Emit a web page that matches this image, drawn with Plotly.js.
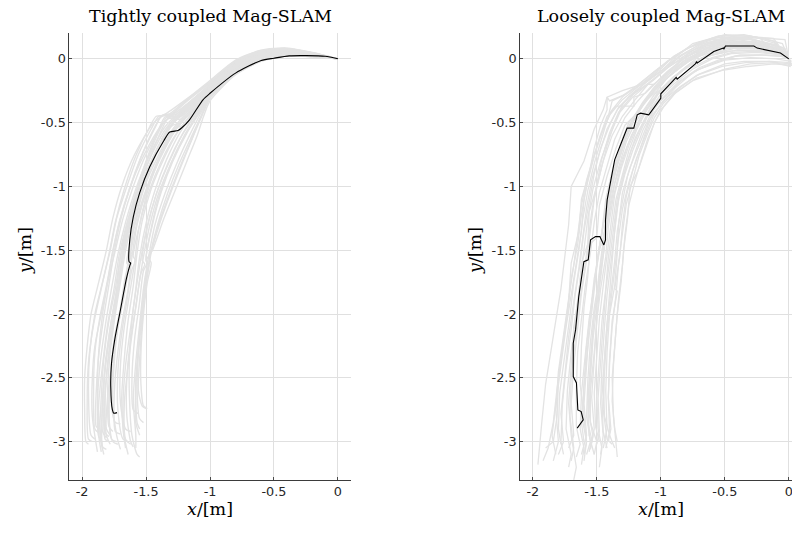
<!DOCTYPE html>
<html>
<head>
<meta charset="utf-8">
<script src="https://cdn.plot.ly/plotly-3.0.1.min.js"></script>
<style>html,body{margin:0;padding:0;overflow:hidden;background:#fff}</style>
</head>
<body>
<div id="chart" style="width:812px;height:533px"></div>
<script>
// ---------------- data ----------------
const titles = ["Tightly coupled Mag-SLAM", "Loosely coupled Mag-SLAM"];
const xTicks = [-2, -1.5, -1, -0.5, 0];
const xTickText = ["-2", "-1.5", "-1", "-0.5", "0"];
const yTicks = [0, -0.5, -1, -1.5, -2, -2.5, -3];
const yTickText = ["0", "-0.5", "-1", "-1.5", "-2", "-2.5", "-3"];

// Tightly coupled: estimate trajectory (black) and Monte Carlo runs (grey)
const leftBlack = [[0,0],[-0.1,0.02],[-0.25,0.025],[-0.38,0.023],[-0.5,0.005],[-0.6,-0.013],[-0.8,-0.112],[-1.0,-0.27],[-1.055,-0.321],[-1.16,-0.478],[-1.22,-0.54],[-1.25,-0.562],[-1.315,-0.574],[-1.36,-0.64],[-1.47,-0.844],[-1.55,-1.05],[-1.60,-1.24],[-1.627,-1.418],[-1.633,-1.589],[-1.62,-1.60],[-1.627,-1.62],[-1.653,-1.72],[-1.705,-1.993],[-1.745,-2.202],[-1.77,-2.385],[-1.776,-2.568],[-1.763,-2.751],[-1.752,-2.777],[-1.727,-2.772]];

const leftGray = [
 [[0,0],[-0.2,0.05],[-0.4,0.084],[-0.6,0.068],[-0.8,-0.01],[-1.0,-0.17],[-1.15,-0.29],[-1.3,-0.4],[-1.44,-0.5],[-1.59,-0.75],[-1.69,-1.0],[-1.76,-1.25],[-1.81,-1.5],[-1.87,-1.75],[-1.93,-2.0],[-1.96,-2.25],[-1.98,-2.5],[-1.98,-2.75],[-1.97,-3.0],[-1.95,-3.02]],
 [[0,0],[-0.2,0.047],[-0.4,0.08],[-0.6,0.062],[-0.8,-0.02],[-1.0,-0.185],[-1.2,-0.34],[-1.31,-0.44],[-1.4,-0.45],[-1.46,-0.55],[-1.56,-0.75],[-1.65,-1.0],[-1.73,-1.25],[-1.78,-1.5],[-1.84,-1.75],[-1.9,-2.0],[-1.94,-2.3],[-1.95,-2.6],[-1.93,-2.95],[-1.9,-2.98]],
 [[0,0],[-0.2,0.044],[-0.4,0.075],[-0.6,0.055],[-0.8,-0.03],[-1.0,-0.2],[-1.2,-0.37],[-1.36,-0.5],[-1.5,-0.75],[-1.6,-1.0],[-1.68,-1.25],[-1.74,-1.5],[-1.8,-1.75],[-1.85,-2.0],[-1.9,-2.25],[-1.92,-2.5],[-1.92,-2.8],[-1.88,-3.08]],
 [[0,0],[-0.2,0.04],[-0.4,0.07],[-0.6,0.047],[-0.8,-0.04],[-1.0,-0.21],[-1.18,-0.37],[-1.28,-0.44],[-1.38,-0.445],[-1.42,-0.52],[-1.53,-0.75],[-1.62,-1.0],[-1.7,-1.25],[-1.76,-1.5],[-1.8,-1.75],[-1.84,-2.0],[-1.87,-2.3],[-1.88,-2.6],[-1.86,-2.9],[-1.84,-3.05]],
 [[0,0],[-0.2,0.037],[-0.4,0.064],[-0.6,0.04],[-0.8,-0.05],[-1.0,-0.22],[-1.17,-0.38],[-1.33,-0.55],[-1.46,-0.8],[-1.56,-1.05],[-1.64,-1.3],[-1.7,-1.55],[-1.74,-1.8],[-1.79,-2.05],[-1.83,-2.35],[-1.85,-2.65],[-1.86,-2.95],[-1.83,-3.1]],
 [[0,0],[-0.2,0.034],[-0.4,0.058],[-0.6,0.032],[-0.8,-0.06],[-1.0,-0.23],[-1.16,-0.39],[-1.26,-0.45],[-1.35,-0.455],[-1.4,-0.55],[-1.5,-0.8],[-1.58,-1.05],[-1.65,-1.3],[-1.7,-1.55],[-1.73,-1.8],[-1.78,-2.1],[-1.82,-2.4],[-1.83,-2.7],[-1.82,-2.98],[-1.79,-3.0]],
 [[0,0],[-0.2,0.031],[-0.4,0.052],[-0.6,0.024],[-0.8,-0.07],[-1.0,-0.24],[-1.15,-0.4],[-1.3,-0.58],[-1.42,-0.82],[-1.52,-1.08],[-1.6,-1.35],[-1.65,-1.6],[-1.63,-1.63],[-1.66,-1.7],[-1.7,-1.95],[-1.75,-2.2],[-1.78,-2.5],[-1.79,-2.8],[-1.76,-3.0],[-1.72,-3.02]],
 [[0,0],[-0.2,0.028],[-0.4,0.048],[-0.6,0.015],[-0.8,-0.08],[-1.0,-0.25],[-1.13,-0.4],[-1.23,-0.5],[-1.29,-0.52],[-1.35,-0.6],[-1.45,-0.82],[-1.54,-1.08],[-1.6,-1.35],[-1.63,-1.6],[-1.67,-1.85],[-1.72,-2.1],[-1.75,-2.4],[-1.76,-2.7],[-1.73,-2.95],[-1.7,-3.06]],
 [[0,0],[-0.2,0.026],[-0.4,0.044],[-0.6,0.01],[-0.8,-0.09],[-1.0,-0.26],[-1.12,-0.41],[-1.26,-0.58],[-1.38,-0.8],[-1.48,-1.05],[-1.55,-1.3],[-1.6,-1.55],[-1.58,-1.58],[-1.61,-1.65],[-1.65,-1.9],[-1.69,-2.15],[-1.72,-2.45],[-1.72,-2.75],[-1.68,-2.98],[-1.64,-3.0]],
 [[0,0],[-0.2,0.024],[-0.4,0.04],[-0.6,0.005],[-0.8,-0.1],[-1.0,-0.27],[-1.1,-0.4],[-1.2,-0.52],[-1.27,-0.54],[-1.32,-0.62],[-1.42,-0.84],[-1.5,-1.08],[-1.56,-1.35],[-1.59,-1.6],[-1.63,-1.85],[-1.67,-2.1],[-1.7,-2.4],[-1.7,-2.7],[-1.66,-2.9],[-1.62,-2.92]],
 [[0,0],[-0.2,0.022],[-0.4,0.036],[-0.6,0.0],[-0.8,-0.105],[-1.0,-0.28],[-1.1,-0.42],[-1.22,-0.6],[-1.33,-0.82],[-1.42,-1.06],[-1.49,-1.32],[-1.53,-1.58],[-1.51,-1.61],[-1.54,-1.68],[-1.58,-1.95],[-1.62,-2.2],[-1.65,-2.5],[-1.65,-2.8],[-1.62,-3.0],[-1.6,-3.04]],
 [[0,0],[-0.2,0.02],[-0.4,0.032],[-0.6,-0.005],[-0.8,-0.11],[-1.0,-0.29],[-1.08,-0.42],[-1.18,-0.58],[-1.29,-0.8],[-1.38,-1.04],[-1.45,-1.3],[-1.5,-1.56],[-1.49,-1.6],[-1.52,-1.66],[-1.55,-1.9],[-1.59,-2.2],[-1.61,-2.5],[-1.6,-2.75],[-1.56,-2.78]],
 [[0,0],[-0.2,0.018],[-0.4,0.028],[-0.6,-0.01],[-0.8,-0.115],[-1.0,-0.3],[-1.07,-0.45],[-1.14,-0.6],[-1.24,-0.82],[-1.33,-1.05],[-1.41,-1.3],[-1.47,-1.55],[-1.51,-1.8],[-1.53,-2.05],[-1.55,-2.35],[-1.56,-2.6],[-1.53,-2.72],[-1.5,-2.74]],
 [[0,0],[-0.2,0.015],[-0.4,0.022],[-0.6,-0.02],[-0.8,-0.125],[-1.0,-0.33],[-1.05,-0.45],[-1.1,-0.6],[-1.18,-0.8],[-1.26,-1.0],[-1.36,-1.25],[-1.45,-1.5],[-1.48,-1.55],[-1.46,-1.6],[-1.49,-1.75],[-1.52,-2.0],[-1.54,-2.3],[-1.54,-2.55],[-1.52,-2.72],[-1.49,-2.74]],
 [[0,0],[-0.2,0.03],[-0.4,0.05],[-0.6,0.02],[-0.8,-0.075],[-1.0,-0.245],[-1.14,-0.4],[-1.27,-0.56],[-1.39,-0.78],[-1.49,-1.02],[-1.57,-1.28],[-1.62,-1.52],[-1.66,-1.78],[-1.71,-2.05],[-1.76,-2.35],[-1.8,-2.65],[-1.81,-2.9],[-1.78,-2.95]],
 [[0,0],[-0.2,0.042],[-0.4,0.072],[-0.6,0.05],[-0.8,-0.035],[-1.0,-0.205],[-1.19,-0.37],[-1.35,-0.53],[-1.48,-0.77],[-1.58,-1.02],[-1.66,-1.28],[-1.72,-1.53],[-1.77,-1.8],[-1.82,-2.1],[-1.86,-2.4],[-1.88,-2.7],[-1.87,-2.96],[-1.85,-2.98]],
 [[0,0],[-0.2,0.036],[-0.4,0.062],[-0.6,0.036],[-0.8,-0.055],[-1.0,-0.225],[-1.16,-0.38],[-1.3,-0.52],[-1.42,-0.74],[-1.52,-0.98],[-1.6,-1.24],[-1.66,-1.5],[-1.7,-1.75],[-1.74,-2.0],[-1.78,-2.3],[-1.8,-2.6],[-1.79,-2.88],[-1.76,-2.92]],
 [[0,0],[-0.2,0.025],[-0.4,0.042],[-0.6,0.008],[-0.8,-0.095],[-1.0,-0.265],[-1.11,-0.41],[-1.23,-0.57],[-1.34,-0.79],[-1.43,-1.03],[-1.5,-1.29],[-1.55,-1.55],[-1.58,-1.8],[-1.61,-2.05],[-1.63,-2.35],[-1.63,-2.65],[-1.61,-2.95],[-1.57,-3.1],[-1.55,-3.12]],
 [[0,0],[-0.2,0.032],[-0.4,0.055],[-0.6,0.028],[-0.8,-0.065],[-1.0,-0.235],[-1.15,-0.39],[-1.24,-0.46],[-1.33,-0.47],[-1.38,-0.56],[-1.47,-0.78],[-1.56,-1.02],[-1.63,-1.28],[-1.68,-1.52],[-1.72,-1.78],[-1.77,-2.05],[-1.81,-2.35],[-1.84,-2.65],[-1.84,-2.92],[-1.81,-2.97]],
 [[0,0],[-0.2,0.046],[-0.4,0.078],[-0.6,0.058],[-0.8,-0.025],[-1.0,-0.19],[-1.2,-0.35],[-1.38,-0.52],[-1.52,-0.76],[-1.63,-1.02],[-1.71,-1.28],[-1.76,-1.52],[-1.81,-1.78],[-1.86,-2.02],[-1.9,-2.3],[-1.91,-2.58],[-1.9,-2.9],[-1.87,-2.93]],
 [[0,0],[-0.2,0.016],[-0.4,0.024],[-0.6,-0.015],[-0.8,-0.12],[-1.0,-0.31],[-1.06,-0.44],[-1.12,-0.58],[-1.21,-0.8],[-1.3,-1.03],[-1.39,-1.28],[-1.46,-1.52],[-1.5,-1.78],[-1.53,-2.02],[-1.56,-2.3],[-1.58,-2.55],[-1.57,-2.85],[-1.55,-2.9]],
 [[0,0],[-0.2,0.02],[-0.4,0.034],[-0.6,-0.002],[-0.8,-0.108],[-1.0,-0.285],[-1.09,-0.43],[-1.19,-0.59],[-1.3,-0.81],[-1.4,-1.05],[-1.47,-1.3],[-1.52,-1.55],[-1.56,-1.8],[-1.6,-2.08],[-1.64,-2.4],[-1.67,-2.7],[-1.66,-2.98],[-1.62,-3.02]],
 [[0,0],[-0.2,0.028],[-0.4,0.045],[-0.6,0.012],[-0.8,-0.085],[-1.0,-0.255],[-1.13,-0.41],[-1.21,-0.47],[-1.29,-0.48],[-1.35,-0.58],[-1.46,-0.82],[-1.55,-1.08],[-1.61,-1.34],[-1.64,-1.6],[-1.68,-1.85],[-1.73,-2.12],[-1.77,-2.42],[-1.79,-2.72],[-1.77,-2.98],[-1.73,-3.0]],
 [[0,0],[-0.2,0.038],[-0.4,0.066],[-0.6,0.042],[-0.8,-0.045],[-1.0,-0.215],[-1.17,-0.37],[-1.32,-0.54],[-1.45,-0.78],[-1.55,-1.03],[-1.63,-1.3],[-1.68,-1.55],[-1.72,-1.82],[-1.77,-2.1],[-1.82,-2.42],[-1.84,-2.72],[-1.84,-3.04],[-1.81,-3.06]],
 [[0,0],[-0.2,0.043],[-0.4,0.073],[-0.6,0.052],[-0.8,-0.032],[-1.0,-0.2],[-1.18,-0.36],[-1.29,-0.43],[-1.37,-0.44],[-1.43,-0.53],[-1.54,-0.77],[-1.63,-1.02],[-1.7,-1.27],[-1.75,-1.52],[-1.79,-1.77],[-1.83,-2.02],[-1.87,-2.32],[-1.89,-2.62],[-1.89,-2.88],[-1.86,-2.9]],
 [[0,0],[-0.2,0.033],[-0.4,0.056],[-0.6,0.03],[-0.8,-0.062],[-1.0,-0.232],[-1.15,-0.385],[-1.29,-0.55],[-1.41,-0.77],[-1.51,-1.0],[-1.58,-1.25],[-1.63,-1.5],[-1.61,-1.53],[-1.64,-1.6],[-1.68,-1.85],[-1.73,-2.15],[-1.76,-2.45],[-1.77,-2.72],[-1.74,-2.85],[-1.7,-2.86]],
 [[0,0],[-0.2,0.027],[-0.4,0.046],[-0.6,0.013],[-0.8,-0.083],[-1.0,-0.252],[-1.12,-0.4],[-1.25,-0.57],[-1.36,-0.78],[-1.46,-1.02],[-1.53,-1.27],[-1.57,-1.52],[-1.6,-1.78],[-1.64,-2.05],[-1.67,-2.35],[-1.69,-2.65],[-1.68,-2.9],[-1.66,-3.05]],
 [[0,0],[-0.2,0.021],[-0.4,0.035],[-0.6,-0.003],[-0.8,-0.106],[-1.0,-0.282],[-1.09,-0.42],[-1.2,-0.6],[-1.31,-0.83],[-1.4,-1.08],[-1.46,-1.33],[-1.5,-1.58],[-1.48,-1.62],[-1.5,-1.68],[-1.53,-1.95],[-1.56,-2.25],[-1.58,-2.55],[-1.58,-2.85],[-1.55,-2.95]],
 [[0,0],[-0.2,0.041],[-0.4,0.069],[-0.6,0.045],[-0.8,-0.04],[-1.0,-0.21],[-1.17,-0.37],[-1.31,-0.53],[-1.43,-0.75],[-1.53,-0.99],[-1.61,-1.25],[-1.67,-1.5],[-1.71,-1.76],[-1.75,-2.02],[-1.79,-2.32],[-1.82,-2.62],[-1.82,-2.93],[-1.79,-2.96]],
 [[0,0],[-0.2,0.048],[-0.4,0.082],[-0.6,0.065],[-0.8,-0.015],[-1.0,-0.18],[-1.17,-0.31],[-1.33,-0.44],[-1.42,-0.45],[-1.47,-0.53],[-1.58,-0.76],[-1.67,-1.02],[-1.74,-1.28],[-1.79,-1.53],[-1.85,-1.8],[-1.91,-2.08],[-1.95,-2.38],[-1.96,-2.68],[-1.95,-2.98],[-1.92,-3.0]],
 [[0,0],[-0.2,0.019],[-0.4,0.03],[-0.6,-0.008],[-0.8,-0.112],[-1.0,-0.295],[-1.08,-0.44],[-1.16,-0.6],[-1.26,-0.82],[-1.35,-1.05],[-1.43,-1.3],[-1.48,-1.55],[-1.52,-1.8],[-1.55,-2.08],[-1.58,-2.38],[-1.6,-2.68],[-1.58,-2.95],[-1.58,-3.05]],
 [[0,0],[-0.2,0.035],[-0.4,0.06],[-0.6,0.034],[-0.8,-0.058],[-1.0,-0.228],[-1.16,-0.385],[-1.25,-0.455],[-1.34,-0.46],[-1.39,-0.55],[-1.49,-0.79],[-1.57,-1.04],[-1.64,-1.3],[-1.69,-1.55],[-1.72,-1.8],[-1.76,-2.08],[-1.8,-2.38],[-1.82,-2.68],[-1.81,-2.95],[-1.78,-3.02]],
 [[0,0],[-0.2,0.029],[-0.4,0.049],[-0.6,0.018],[-0.8,-0.078],[-1.0,-0.248],[-1.14,-0.405],[-1.28,-0.57],[-1.4,-0.79],[-1.5,-1.04],[-1.57,-1.3],[-1.61,-1.55],[-1.64,-1.8],[-1.69,-2.08],[-1.73,-2.38],[-1.75,-2.68],[-1.74,-2.92],[-1.7,-2.94]],
 [[0,0],[-0.2,0.017],[-0.4,0.026],[-0.6,-0.012],[-0.8,-0.118],[-1.0,-0.305],[-1.07,-0.45],[-1.13,-0.6],[-1.22,-0.81],[-1.31,-1.04],[-1.4,-1.29],[-1.47,-1.53],[-1.5,-1.58],[-1.48,-1.62],[-1.51,-1.78],[-1.54,-2.02],[-1.56,-2.3],[-1.57,-2.6],[-1.55,-2.82],[-1.52,-2.85]],
 [[0,0],[-0.2,0.039],[-0.4,0.067],[-0.6,0.044],[-0.8,-0.042],[-1.0,-0.212],[-1.18,-0.37],[-1.34,-0.54],[-1.47,-0.78],[-1.57,-1.03],[-1.65,-1.29],[-1.71,-1.54],[-1.75,-1.8],[-1.8,-2.08],[-1.84,-2.4],[-1.87,-2.7],[-1.87,-2.95],[-1.85,-3.08]],
 [[0,0],[-0.2,0.023],[-0.4,0.038],[-0.6,0.003],[-0.8,-0.1],[-1.0,-0.275],[-1.1,-0.41],[-1.21,-0.58],[-1.32,-0.81],[-1.42,-1.06],[-1.49,-1.31],[-1.54,-1.56],[-1.58,-1.82],[-1.62,-2.1],[-1.66,-2.4],[-1.68,-2.7],[-1.67,-2.96],[-1.64,-3.1]]
];

// Loosely coupled: estimate trajectory (black) and Monte Carlo runs (grey)
const rightBlack = [[0,0],[-0.065,0.045],[-0.247,0.084],[-0.273,0.10],[-0.495,0.10],[-0.508,0.076],[-0.51,0.085],[-0.586,0.057],[-0.716,-0.034],[-0.72,-0.02],[-0.73,-0.04],[-0.872,-0.159],[-0.88,-0.145],[-0.924,-0.19],[-1.0,-0.274],[-1.0,-0.31],[-1.067,-0.40],[-1.094,-0.439],[-1.159,-0.426],[-1.184,-0.439],[-1.211,-0.543],[-1.263,-0.543],[-1.289,-0.609],[-1.354,-0.79],[-1.36,-0.79],[-1.419,-1.105],[-1.432,-1.262],[-1.432,-1.418],[-1.445,-1.458],[-1.476,-1.393],[-1.51,-1.393],[-1.549,-1.418],[-1.567,-1.575],[-1.601,-1.589],[-1.627,-1.785],[-1.641,-1.863],[-1.666,-2.124],[-1.684,-2.228],[-1.684,-2.49],[-1.659,-2.54],[-1.648,-2.751],[-1.622,-2.764],[-1.606,-2.829],[-1.627,-2.855],[-1.653,-2.894]];

const rightGray = [
 [[0,0],[-0.05,0.12],[-0.25,0.17],[-0.5,0.19],[-0.75,0.12],[-0.9,0.0],[-1.0,-0.1],[-1.15,-0.2],[-1.3,-0.25],[-1.42,-0.3],[-1.45,-0.4],[-1.52,-0.55],[-1.6,-0.8],[-1.7,-1.0],[-1.72,-1.3],[-1.75,-1.55],[-1.78,-1.8],[-1.82,-2.05],[-1.86,-2.3],[-1.9,-2.55],[-1.93,-2.85],[-1.96,-3.18]],
 [[0,0],[-0.1,0.08],[-0.3,0.15],[-0.5,0.17],[-0.52,0.14],[-0.7,0.1],[-0.85,0.0],[-0.86,-0.03],[-1.0,-0.15],[-1.12,-0.27],[-1.21,-0.3],[-1.21,-0.37],[-1.35,-0.37],[-1.42,-0.45],[-1.48,-0.62],[-1.55,-0.85],[-1.62,-1.1],[-1.64,-1.35],[-1.7,-1.6],[-1.72,-1.9],[-1.76,-2.2],[-1.8,-2.5],[-1.81,-2.8],[-1.84,-3.0],[-1.9,-3.05]],
 [[0,0],[-0.02,0.05],[-0.2,0.12],[-0.4,0.15],[-0.6,0.12],[-0.62,0.09],[-0.8,0.02],[-0.95,-0.1],[-1.05,-0.2],[-1.1,-0.2],[-1.2,-0.32],[-1.3,-0.45],[-1.38,-0.6],[-1.45,-0.8],[-1.5,-1.0],[-1.56,-1.2],[-1.57,-1.45],[-1.62,-1.6],[-1.64,-1.85],[-1.68,-2.1],[-1.7,-2.4],[-1.72,-2.7],[-1.7,-2.95],[-1.66,-3.2],[-1.68,-3.3]],
 [[0,0],[-0.1,0.06],[-0.3,0.1],[-0.32,0.13],[-0.5,0.13],[-0.7,0.07],[-0.72,0.03],[-0.85,-0.05],[-1.0,-0.2],[-1.1,-0.3],[-1.18,-0.42],[-1.28,-0.52],[-1.35,-0.7],[-1.42,-0.92],[-1.48,-1.15],[-1.5,-1.4],[-1.55,-1.45],[-1.57,-1.7],[-1.6,-1.95],[-1.62,-2.25],[-1.63,-2.55],[-1.6,-2.8],[-1.58,-3.0],[-1.6,-3.15]],
 [[0,0],[0.02,-0.04],[-0.1,-0.03],[-0.3,-0.04],[-0.5,-0.08],[-0.75,-0.17],[-0.9,-0.28],[-1.0,-0.4],[-1.05,-0.5],[-1.12,-0.7],[-1.18,-0.88],[-1.24,-1.0],[-1.26,-1.25],[-1.29,-1.5],[-1.31,-1.75],[-1.34,-2.0],[-1.36,-2.25],[-1.38,-2.5],[-1.37,-2.8],[-1.34,-3.12]],
 [[0,0],[0.01,-0.06],[-0.15,-0.02],[-0.35,-0.02],[-0.5,-0.04],[-0.7,-0.12],[-0.85,-0.22],[-0.95,-0.3],[-1.05,-0.42],[-1.1,-0.5],[-1.17,-0.68],[-1.24,-0.85],[-1.3,-1.05],[-1.33,-1.3],[-1.34,-1.52],[-1.36,-1.78],[-1.4,-2.0],[-1.42,-2.3],[-1.43,-2.6],[-1.42,-2.9],[-1.45,-3.05]],
 [[0,0],[-0.05,0.03],[-0.25,0.05],[-0.45,0.04],[-0.6,0.0],[-0.75,-0.08],[-0.9,-0.2],[-1.0,-0.3],[-1.08,-0.4],[-1.15,-0.55],[-1.22,-0.72],[-1.28,-0.9],[-1.33,-1.1],[-1.36,-1.35],[-1.39,-1.6],[-1.42,-1.85],[-1.44,-2.1],[-1.46,-2.4],[-1.47,-2.7],[-1.45,-2.95],[-1.47,-3.1]],
 [[0,0],[-0.1,0.08],[-0.3,0.11],[-0.5,0.1],[-0.55,0.07],[-0.7,0.02],[-0.85,-0.1],[-0.95,-0.2],[-1.05,-0.28],[-1.12,-0.38],[-1.2,-0.5],[-1.27,-0.65],[-1.33,-0.85],[-1.38,-1.05],[-1.42,-1.3],[-1.45,-1.55],[-1.48,-1.8],[-1.5,-2.05],[-1.52,-2.35],[-1.54,-2.65],[-1.52,-2.9],[-1.55,-3.05]],
 [[0,0],[-0.05,0.06],[-0.2,0.1],[-0.4,0.12],[-0.6,0.08],[-0.8,-0.02],[-0.95,-0.15],[-1.05,-0.25],[-1.15,-0.38],[-1.25,-0.5],[-1.32,-0.68],[-1.38,-0.88],[-1.43,-1.1],[-1.46,-1.35],[-1.5,-1.6],[-1.53,-1.85],[-1.56,-2.1],[-1.58,-2.4],[-1.6,-2.7],[-1.58,-2.95],[-1.62,-3.1]],
 [[0,0],[-0.08,0.04],[-0.25,0.08],[-0.45,0.09],[-0.6,0.05],[-0.78,-0.05],[-0.92,-0.17],[-1.02,-0.28],[-1.1,-0.36],[-1.18,-0.5],[-1.26,-0.68],[-1.32,-0.87],[-1.37,-1.08],[-1.41,-1.32],[-1.43,-1.55],[-1.47,-1.8],[-1.5,-2.05],[-1.52,-2.3],[-1.55,-2.6],[-1.55,-2.85],[-1.5,-3.0],[-1.52,-3.1]],
 [[0,0],[-0.1,0.1],[-0.3,0.16],[-0.5,0.16],[-0.7,0.11],[-0.85,0.02],[-0.98,-0.1],[-1.1,-0.2],[-1.22,-0.3],[-1.32,-0.42],[-1.4,-0.6],[-1.47,-0.8],[-1.53,-1.02],[-1.57,-1.25],[-1.6,-1.5],[-1.63,-1.75],[-1.66,-2.0],[-1.7,-2.3],[-1.73,-2.6],[-1.74,-2.9],[-1.7,-3.1],[-1.72,-3.2]],
 [[0,0],[-0.05,0.05],[-0.25,0.08],[-0.27,0.1],[-0.45,0.11],[-0.65,0.06],[-0.8,-0.03],[-0.95,-0.15],[-1.03,-0.25],[-1.12,-0.33],[-1.2,-0.44],[-1.28,-0.58],[-1.34,-0.78],[-1.4,-1.0],[-1.44,-1.22],[-1.47,-1.46],[-1.52,-1.72],[-1.55,-1.98],[-1.58,-2.25],[-1.6,-2.55],[-1.62,-2.85],[-1.6,-3.0]],
 [[0,0],[-0.05,0.04],[-0.2,0.06],[-0.4,0.07],[-0.6,0.03],[-0.75,-0.04],[-0.9,-0.14],[-1.0,-0.24],[-1.07,-0.36],[-1.13,-0.48],[-1.2,-0.62],[-1.26,-0.8],[-1.31,-1.0],[-1.35,-1.22],[-1.37,-1.45],[-1.39,-1.7],[-1.41,-1.95],[-1.43,-2.2],[-1.45,-2.5],[-1.44,-2.8],[-1.4,-2.95],[-1.36,-3.05]],
 [[0,0],[-0.1,0.12],[-0.3,0.18],[-0.5,0.18],[-0.7,0.13],[-0.9,0.02],[-1.0,-0.08],[-1.12,-0.18],[-1.28,-0.28],[-1.4,-0.33],[-1.42,-0.3],[-1.42,-0.4],[-1.47,-0.52],[-1.52,-0.7],[-1.56,-0.9],[-1.6,-1.1],[-1.62,-1.35],[-1.66,-1.6],[-1.7,-1.85],[-1.74,-2.1],[-1.78,-2.4],[-1.82,-2.7],[-1.85,-2.95],[-1.82,-3.1]],
 [[0,0],[0.02,-0.02],[-0.1,0.0],[-0.3,0.01],[-0.5,-0.01],[-0.7,-0.08],[-0.85,-0.18],[-0.97,-0.3],[-1.05,-0.38],[-1.1,-0.52],[-1.16,-0.7],[-1.22,-0.88],[-1.27,-1.08],[-1.3,-1.3],[-1.32,-1.55],[-1.36,-1.8],[-1.34,-1.82],[-1.38,-2.05],[-1.4,-2.35],[-1.41,-2.65],[-1.39,-2.9],[-1.41,-3.0]],
 [[0,0],[-0.08,0.07],[-0.28,0.13],[-0.5,0.14],[-0.68,0.09],[-0.82,0.0],[-0.96,-0.12],[-1.08,-0.22],[-1.18,-0.33],[-1.28,-0.46],[-1.36,-0.63],[-1.42,-0.83],[-1.48,-1.05],[-1.52,-1.28],[-1.55,-1.52],[-1.59,-1.78],[-1.62,-2.03],[-1.65,-2.3],[-1.66,-2.6],[-1.66,-2.88],[-1.63,-3.02],[-1.66,-3.12]],
 [[0,0],[-0.06,0.02],[-0.22,0.03],[-0.42,0.02],[-0.58,-0.03],[-0.74,-0.1],[-0.88,-0.22],[-0.99,-0.34],[-1.06,-0.45],[-1.12,-0.6],[-1.19,-0.78],[-1.25,-0.97],[-1.3,-1.18],[-1.33,-1.4],[-1.36,-1.65],[-1.39,-1.9],[-1.42,-2.15],[-1.44,-2.45],[-1.45,-2.75],[-1.42,-2.98],[-1.38,-3.02]],
 [[0,0],[-0.12,0.14],[-0.35,0.19],[-0.55,0.18],[-0.72,0.12],[-0.88,0.03],[-1.0,-0.06],[-1.1,-0.14],[-1.2,-0.22],[-1.3,-0.3],[-1.38,-0.4],[-1.45,-0.55],[-1.52,-0.75],[-1.58,-0.95],[-1.62,-1.15],[-1.65,-1.38],[-1.68,-1.62],[-1.72,-1.88],[-1.76,-2.15],[-1.8,-2.45],[-1.82,-2.75],[-1.8,-3.0],[-1.84,-3.15]],
 [[0,0],[-0.04,0.04],[-0.24,0.09],[-0.44,0.1],[-0.62,0.06],[-0.78,-0.02],[-0.92,-0.12],[-1.03,-0.22],[-1.12,-0.33],[-1.2,-0.46],[-1.27,-0.62],[-1.33,-0.8],[-1.38,-1.0],[-1.42,-1.22],[-1.46,-1.46],[-1.44,-1.48],[-1.48,-1.7],[-1.52,-1.95],[-1.55,-2.22],[-1.57,-2.52],[-1.58,-2.8],[-1.55,-3.0],[-1.58,-3.1]],
 [[0,0],[-0.03,0.15],[-0.3,0.17],[-0.6,0.15],[-0.8,0.08],[-0.95,-0.02],[-1.06,-0.12],[-1.18,-0.22],[-1.3,-0.32],[-1.4,-0.44],[-1.47,-0.6],[-1.53,-0.8],[-1.58,-1.0],[-1.62,-1.22],[-1.65,-1.46],[-1.7,-1.72],[-1.73,-2.0],[-1.77,-2.28],[-1.81,-2.58],[-1.84,-2.85],[-1.88,-3.05],[-1.92,-3.15]],
 [[0,0],[-0.07,0.05],[-0.27,0.07],[-0.47,0.06],[-0.64,0.02],[-0.8,-0.07],[-0.94,-0.18],[-1.04,-0.3],[-1.12,-0.42],[-1.19,-0.56],[-1.25,-0.72],[-1.3,-0.9],[-1.35,-1.1],[-1.38,-1.32],[-1.41,-1.56],[-1.43,-1.8],[-1.46,-2.06],[-1.48,-2.35],[-1.5,-2.65],[-1.49,-2.9],[-1.46,-3.05],[-1.48,-3.2]],
 [[0,0],[-0.05,0.09],[-0.25,0.13],[-0.45,0.14],[-0.65,0.1],[-0.82,0.02],[-0.96,-0.08],[-1.08,-0.18],[-1.16,-0.24],[-1.25,-0.3],[-1.3,-0.36],[-1.36,-0.5],[-1.42,-0.68],[-1.47,-0.88],[-1.52,-1.1],[-1.55,-1.34],[-1.58,-1.58],[-1.62,-1.84],[-1.65,-2.1],[-1.68,-2.4],[-1.7,-2.7],[-1.68,-2.95],[-1.72,-3.05]],
 [[0,0],[0.02,-0.05],[-0.12,-0.04],[-0.32,-0.06],[-0.52,-0.09],[-0.72,-0.15],[-0.88,-0.26],[-0.98,-0.38],[-1.04,-0.48],[-1.1,-0.62],[-1.15,-0.78],[-1.2,-0.95],[-1.25,-1.15],[-1.28,-1.38],[-1.3,-1.62],[-1.33,-1.88],[-1.35,-2.12],[-1.37,-2.4],[-1.38,-2.68],[-1.36,-2.9],[-1.34,-3.0]],
 [[0,0],[-0.09,0.09],[-0.3,0.12],[-0.5,0.12],[-0.68,0.08],[-0.84,-0.01],[-0.97,-0.13],[-1.07,-0.25],[-1.16,-0.38],[-1.24,-0.52],[-1.3,-0.7],[-1.36,-0.9],[-1.41,-1.12],[-1.44,-1.36],[-1.47,-1.6],[-1.5,-1.85],[-1.53,-2.1],[-1.55,-2.38],[-1.57,-2.68],[-1.56,-2.95],[-1.52,-3.1]],
 [[0,0],[-0.03,0.08],[-0.2,0.13],[-0.22,0.16],[-0.42,0.17],[-0.6,0.13],[-0.78,0.05],[-0.8,0.02],[-0.95,-0.07],[-1.06,-0.17],[-1.2,-0.26],[-1.25,-0.32],[-1.33,-0.42],[-1.4,-0.58],[-1.46,-0.78],[-1.5,-0.98],[-1.54,-1.2],[-1.57,-1.44],[-1.6,-1.68],[-1.64,-1.94],[-1.67,-2.2],[-1.7,-2.5],[-1.71,-2.8],[-1.68,-3.05],[-1.7,-3.15]],
 [[0,0],[-0.06,0.06],[-0.26,0.1],[-0.46,0.11],[-0.63,0.07],[-0.78,0.0],[-0.8,-0.03],[-0.93,-0.13],[-1.04,-0.23],[-1.13,-0.35],[-1.21,-0.48],[-1.28,-0.64],[-1.34,-0.83],[-1.39,-1.03],[-1.42,-1.26],[-1.46,-1.5],[-1.49,-1.75],[-1.48,-1.8],[-1.52,-2.0],[-1.54,-2.28],[-1.56,-2.58],[-1.57,-2.85],[-1.54,-2.98],[-1.56,-3.08]],
 [[0,0],[-0.08,0.1],[-0.28,0.15],[-0.48,0.15],[-0.66,0.11],[-0.83,0.03],[-0.98,-0.08],[-1.1,-0.17],[-1.22,-0.27],[-1.33,-0.38],[-1.4,-0.52],[-1.47,-0.7],[-1.52,-0.9],[-1.56,-1.12],[-1.6,-1.35],[-1.63,-1.6],[-1.67,-1.86],[-1.7,-2.12],[-1.74,-2.42],[-1.77,-2.72],[-1.78,-3.0],[-1.76,-3.1]],
 [[0,0],[-0.04,0.02],[-0.18,0.03],[-0.38,0.03],[-0.55,-0.01],[-0.7,-0.07],[-0.86,-0.18],[-0.98,-0.3],[-1.07,-0.42],[-1.14,-0.56],[-1.2,-0.73],[-1.26,-0.92],[-1.3,-1.12],[-1.34,-1.35],[-1.36,-1.58],[-1.39,-1.83],[-1.42,-2.08],[-1.44,-2.36],[-1.46,-2.65],[-1.45,-2.92],[-1.42,-3.05]],
 [[0,0],[-0.05,0.07],[-0.22,0.11],[-0.42,0.13],[-0.62,0.09],[-0.8,0.0],[-0.94,-0.11],[-1.05,-0.22],[-1.14,-0.34],[-1.22,-0.47],[-1.29,-0.63],[-1.35,-0.82],[-1.4,-1.02],[-1.44,-1.25],[-1.48,-1.48],[-1.51,-1.72],[-1.54,-1.98],[-1.57,-2.26],[-1.6,-2.56],[-1.61,-2.84],[-1.58,-3.0],[-1.6,-3.1]],
 [[0,0],[-0.1,0.11],[-0.32,0.16],[-0.52,0.16],[-0.7,0.11],[-0.86,0.02],[-0.99,-0.09],[-1.12,-0.19],[-1.24,-0.29],[-1.34,-0.4],[-1.42,-0.55],[-1.48,-0.74],[-1.54,-0.95],[-1.58,-1.17],[-1.61,-1.4],[-1.64,-1.64],[-1.68,-1.9],[-1.72,-2.18],[-1.75,-2.48],[-1.78,-2.78],[-1.76,-3.0],[-1.8,-3.1]],
 [[0,0],[-0.06,0.03],[-0.24,0.06],[-0.44,0.05],[-0.6,0.01],[-0.76,-0.07],[-0.9,-0.18],[-1.01,-0.29],[-1.09,-0.41],[-1.16,-0.55],[-1.23,-0.71],[-1.29,-0.9],[-1.34,-1.1],[-1.37,-1.33],[-1.4,-1.57],[-1.43,-1.82],[-1.45,-2.08],[-1.47,-2.36],[-1.49,-2.66],[-1.48,-2.92],[-1.5,-3.02]],
 [[0,0],[-0.08,0.06],[-0.3,0.09],[-0.5,0.08],[-0.52,0.05],[-0.68,0.01],[-0.83,-0.09],[-0.96,-0.21],[-1.06,-0.32],[-1.15,-0.45],[-1.23,-0.6],[-1.3,-0.78],[-1.36,-0.98],[-1.4,-1.2],[-1.44,-1.43],[-1.47,-1.68],[-1.5,-1.93],[-1.53,-2.2],[-1.55,-2.5],[-1.56,-2.78],[-1.53,-2.96],[-1.55,-3.06]],
 [[0,0],[-0.12,0.16],[-0.38,0.18],[-0.6,0.16],[-0.78,0.09],[-0.93,-0.01],[-1.05,-0.1],[-1.17,-0.2],[-1.3,-0.29],[-1.38,-0.33],[-1.41,-0.45],[-1.46,-0.62],[-1.52,-0.82],[-1.57,-1.03],[-1.61,-1.26],[-1.64,-1.5],[-1.68,-1.75],[-1.71,-2.02],[-1.75,-2.32],[-1.79,-2.62],[-1.8,-2.9],[-1.78,-3.02]],
 [[0,0],[0.01,-0.03],[-0.14,-0.02],[-0.34,-0.03],[-0.52,-0.06],[-0.72,-0.13],[-0.87,-0.24],[-0.98,-0.35],[-1.05,-0.46],[-1.11,-0.6],[-1.17,-0.76],[-1.22,-0.94],[-1.27,-1.14],[-1.3,-1.37],[-1.33,-1.6],[-1.35,-1.85],[-1.38,-2.1],[-1.4,-2.38],[-1.41,-2.66],[-1.4,-2.92],[-1.43,-3.05]],
 [[0,0],[-0.07,0.08],[-0.27,0.12],[-0.47,0.12],[-0.66,0.07],[-0.82,-0.02],[-0.95,-0.13],[-1.06,-0.24],[-1.15,-0.36],[-1.23,-0.5],[-1.3,-0.67],[-1.36,-0.86],[-1.41,-1.06],[-1.45,-1.29],[-1.49,-1.53],[-1.52,-1.78],[-1.56,-2.04],[-1.59,-2.32],[-1.62,-2.62],[-1.63,-2.9],[-1.6,-3.05],[-1.62,-3.18]],
 [[0,0],[-0.04,0.05],[-0.23,0.08],[-0.43,0.08],[-0.6,0.04],[-0.77,-0.04],[-0.91,-0.15],[-1.02,-0.26],[-1.1,-0.38],[-1.18,-0.52],[-1.25,-0.68],[-1.31,-0.86],[-1.36,-1.06],[-1.39,-1.29],[-1.42,-1.53],[-1.45,-1.78],[-1.48,-2.04],[-1.5,-2.32],[-1.52,-2.62],[-1.51,-2.88],[-1.48,-3.0]]
];

// ---------------- build ----------------
const GRAY = "#e3e3e3";
function trace(pts, xa, ya, color, w, shape) {
  const t = {
    type: "scatter", mode: "lines",
    x: pts.map(p => p[0]), y: pts.map(p => p[1]),
    xaxis: xa, yaxis: ya,
    line: {color: color, width: w, shape: shape || "linear"},
    hoverinfo: "skip", showlegend: false
  };
  if (shape === "spline") t.line.smoothing = 0.7;
  return t;
}
const traces = [];
leftGray.forEach(l => traces.push(trace(l, "x", "y", GRAY, 1.4, "spline")));
rightGray.forEach(l => traces.push(trace(l, "x2", "y2", GRAY, 1.3)));
traces.push(trace(leftBlack, "x", "y", "#000000", 1.1, "spline"));
traces.push(trace(rightBlack, "x2", "y2", "#000000", 1.1));

const W = 812, H = 533;
const AX = "#262626";
const tickFont = {family: "DejaVu Sans, sans-serif", size: 12.8, color: AX};
function xAxis(dom) {
  return {
    domain: dom, range: [-2.1, 0.1], tickvals: xTicks, ticktext: xTickText,
    ticks: "inside", ticklen: 3, tickwidth: 0.8, tickcolor: AX,
    showline: true, linecolor: AX, linewidth: 0.9, mirror: false,
    showgrid: true, gridcolor: "#e0e0e0", gridwidth: 1, zeroline: false,
    tickfont: tickFont, fixedrange: true
  };
}
function yAxis(anchor) {
  return {
    domain: [(H - 480) / H, (H - 33.3) / H], range: [-3.3, 0.2], anchor: anchor,
    tickvals: yTicks, ticktext: yTickText,
    ticks: "inside", ticklen: 3, tickwidth: 0.8, tickcolor: AX,
    showline: true, linecolor: AX, linewidth: 0.9, mirror: false,
    showgrid: true, gridcolor: "#e0e0e0", gridwidth: 1, zeroline: false,
    tickfont: tickFont, fixedrange: true
  };
}
const xa1 = xAxis([69.3 / W, 350.7 / W]); xa1.anchor = "y";
const xa2 = xAxis([520 / W, 801.6 / W]); xa2.anchor = "y2";

const serif = {family: "DejaVu Serif, serif", size: 17.5, color: "#000"};
const ann = [];
const centers = [(69.3 + 350.7) / 2, (520 + 801.6) / 2];
const ylabX = [25, 475];
for (let i = 0; i < 2; i++) {
  ann.push({text: titles[i], xref: "paper", yref: "paper", x: centers[i] / W, y: (H - 16.5) / H,
            xanchor: "center", yanchor: "middle", showarrow: false, font: serif});
  ann.push({text: "<i>x</i>/[m]", xref: "paper", yref: "paper", x: centers[i] / W, y: (H - 509) / H,
            xanchor: "center", yanchor: "middle", showarrow: false, font: serif});
  ann.push({text: "<i>y</i>/[m]", xref: "paper", yref: "paper", x: ylabX[i] / W, y: (H - 251) / H,
            xanchor: "center", yanchor: "middle", showarrow: false, textangle: -90, font: serif});
}

const layout = {
  width: W, height: H,
  margin: {l: 0, r: 0, t: 0, b: 0, pad: 0},
  paper_bgcolor: "#fff", plot_bgcolor: "#fff",
  xaxis: xa1, yaxis: yAxis("x"),
  xaxis2: xa2, yaxis2: yAxis("x2"),
  annotations: ann,
  showlegend: false, hovermode: false
};
Plotly.newPlot("chart", traces, layout, {displayModeBar: false, staticPlot: true});
</script>
</body>
</html>
